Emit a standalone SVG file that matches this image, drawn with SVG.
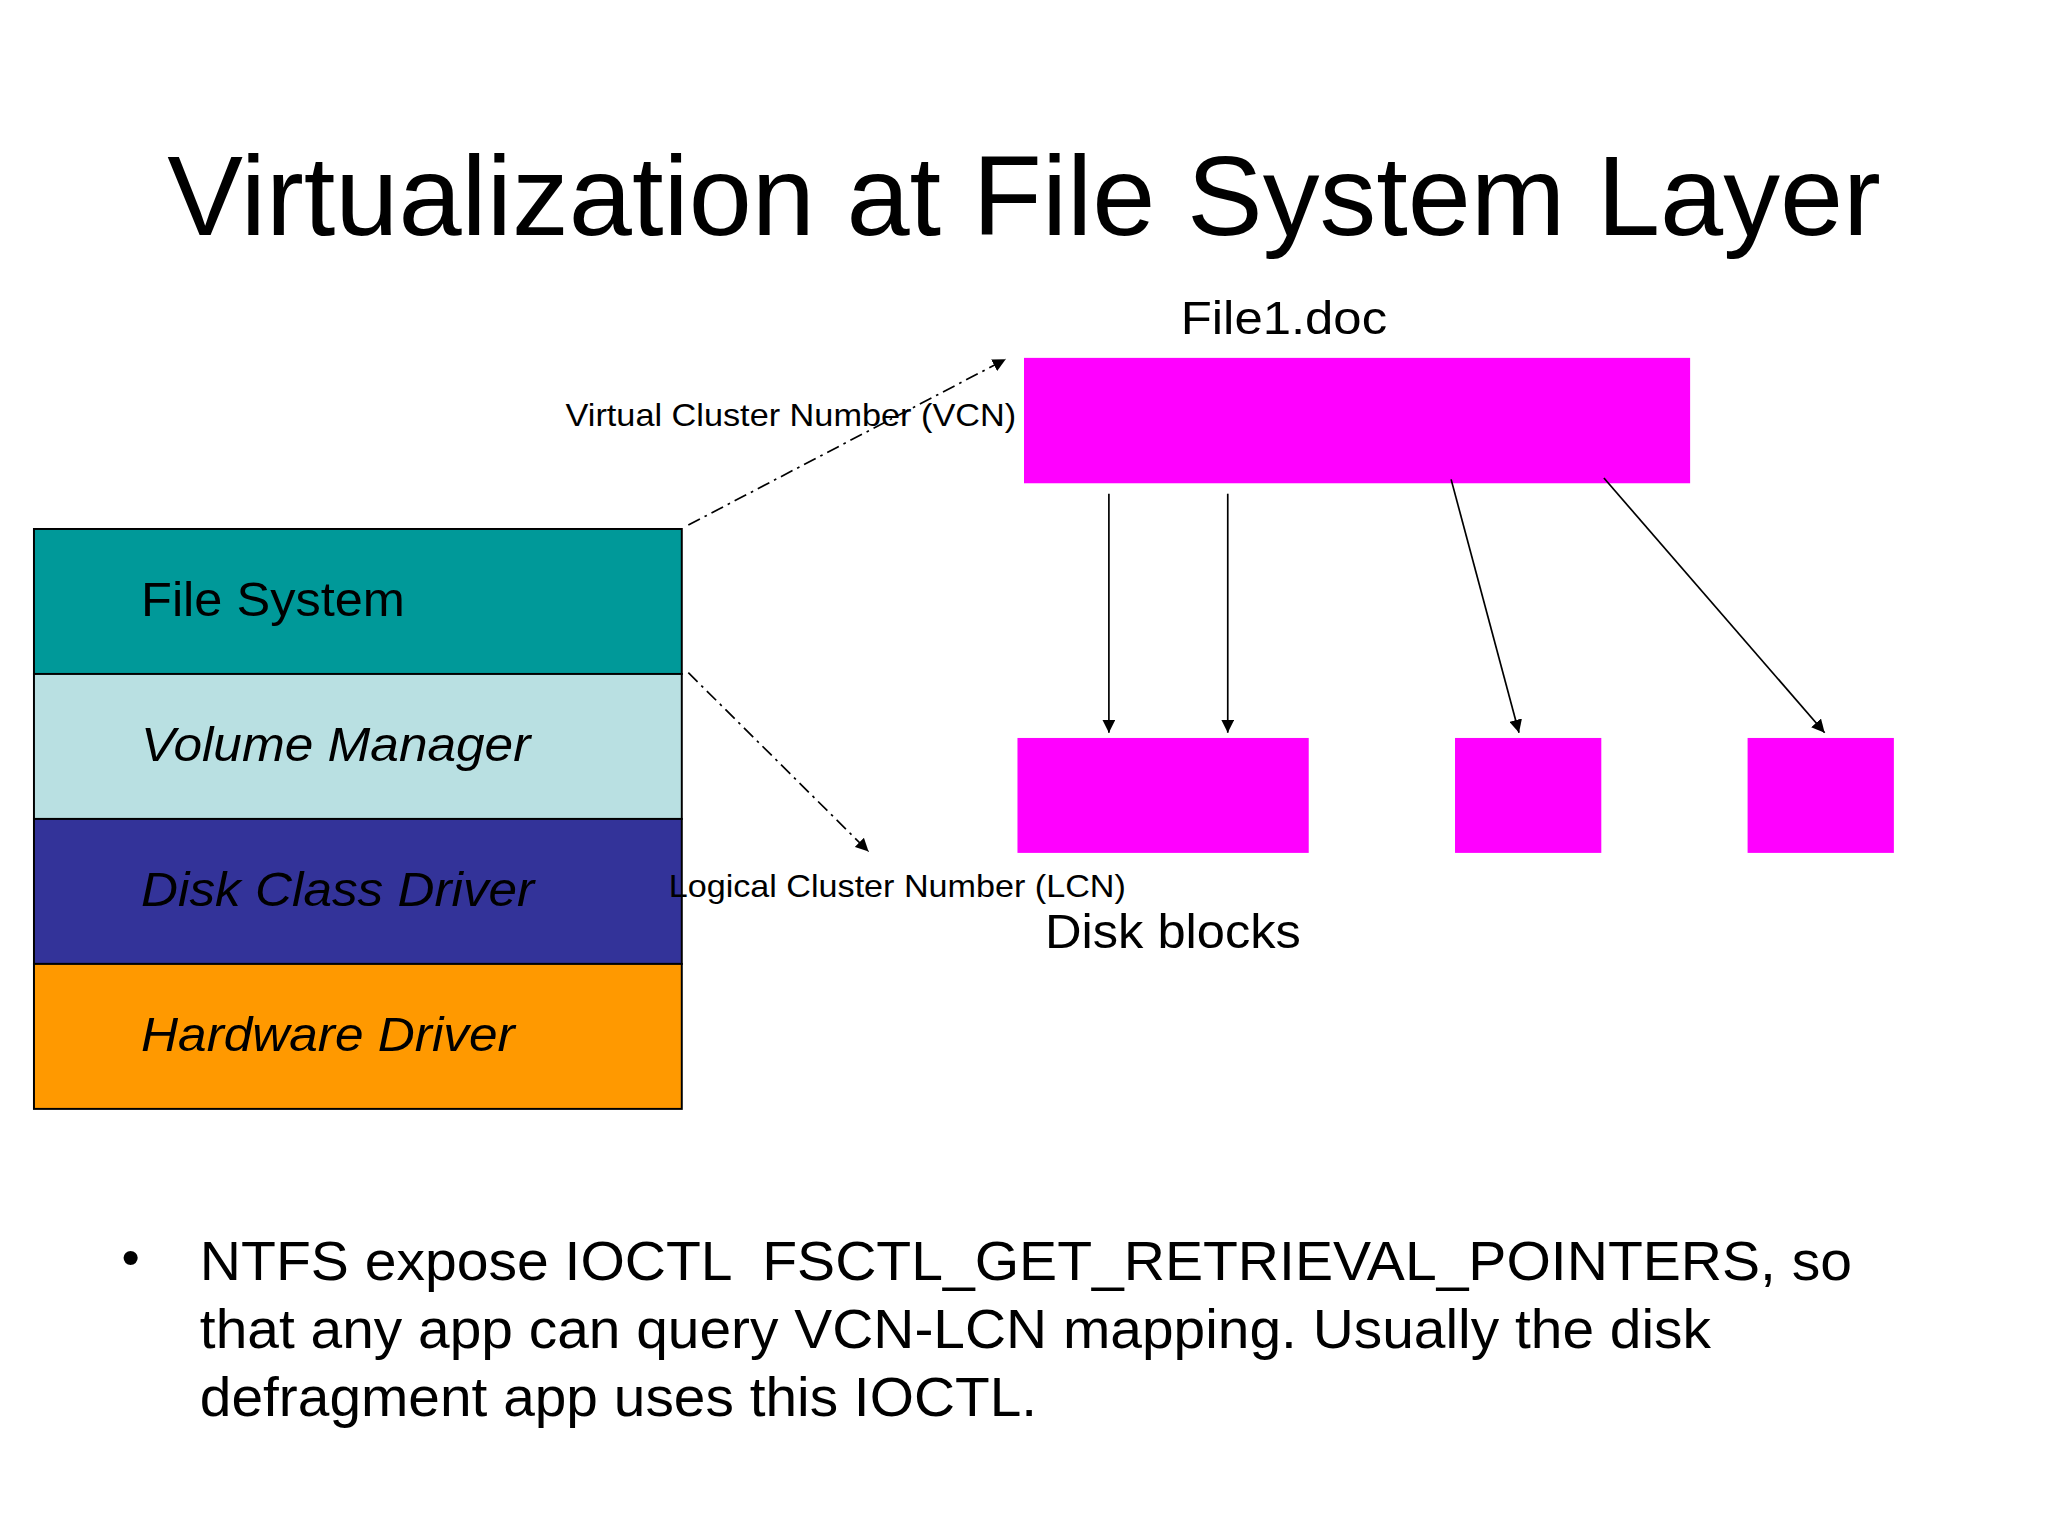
<svg xmlns="http://www.w3.org/2000/svg" width="2048" height="1536" viewBox="0 0 2048 1536">
<style>
text{font-family:"Liberation Sans",Arial,sans-serif;fill:#000}
.lay{stroke:#000;stroke-width:1.5}
.mag{fill:#FF00FF}
.c{stroke:#000;stroke-width:1.3;fill:none}
.dd{stroke-dasharray:10,4,2,4}
</style>
<defs><marker id="a" viewBox="0 0 10 10" refX="10" refY="5" markerWidth="10" markerHeight="10" markerUnits="userSpaceOnUse" orient="auto"><path d="M0,0L10,5L0,10z" fill="#000"/></marker></defs>
<rect width="2048" height="1536" fill="#fff"/>
<g transform="scale(1.30612)">
<text x="128" y="180" font-size="86" textLength="1312" lengthAdjust="spacingAndGlyphs">Virtualization at File System Layer</text>
<g id="file1"><rect class="mag" x="784" y="274" width="510" height="96"/><text x="904" y="256" font-size="36" textLength="158" lengthAdjust="spacingAndGlyphs">File1.doc</text></g>
<g id="fs"><rect class="lay" x="26" y="405" width="496" height="111" fill="#009999"/><text x="108" y="472" font-size="37" textLength="202" lengthAdjust="spacingAndGlyphs">File System</text></g>
<g id="vm"><rect class="lay" x="26" y="516" width="496" height="111" fill="#B9E0E2"/><text x="108" y="583" font-size="37" font-style="italic" textLength="298" lengthAdjust="spacingAndGlyphs">Volume Manager</text></g>
<g id="dcd"><rect class="lay" x="26" y="627" width="496" height="111" fill="#333399"/><text x="108" y="694" font-size="37" font-style="italic" textLength="301" lengthAdjust="spacingAndGlyphs">Disk Class Driver</text></g>
<g id="hd"><rect class="lay" x="26" y="738" width="496" height="111" fill="#FF9900"/><text x="108" y="805" font-size="37" font-style="italic" textLength="286" lengthAdjust="spacingAndGlyphs">Hardware Driver</text></g>
<g id="b1"><rect class="mag" x="779" y="565" width="223" height="88"/></g>
<g id="b2"><rect class="mag" x="1114" y="565" width="112" height="88"/></g>
<g id="b3"><rect class="mag" x="1338" y="565" width="112" height="88"/></g>
<g id="labels">
<text x="433" y="326" font-size="24" textLength="345" lengthAdjust="spacingAndGlyphs">Virtual Cluster Number (VCN)</text>
<text x="512" y="687" font-size="24" textLength="350" lengthAdjust="spacingAndGlyphs">Logical Cluster Number (LCN)</text>
<text x="800" y="726" font-size="37" textLength="196" lengthAdjust="spacingAndGlyphs">Disk blocks</text>
</g>
<g id="connectors">
<line class="c dd" x1="527" y1="402" x2="770" y2="275" marker-end="url(#a)"/>
<line class="c dd" x1="527" y1="515" x2="665" y2="652" marker-end="url(#a)"/>
<line class="c" x1="849" y1="378" x2="849" y2="561" marker-end="url(#a)"/>
<line class="c" x1="940" y1="378" x2="940" y2="561" marker-end="url(#a)"/>
<line class="c" x1="1111" y1="367" x2="1163" y2="561" marker-end="url(#a)"/>
<line class="c" x1="1228" y1="366" x2="1397" y2="561" marker-end="url(#a)"/>
</g>
<g id="bullet" font-size="43">
<text x="93" y="976" font-size="40">•</text>
<text x="153" y="980" xml:space="preserve" textLength="1265" lengthAdjust="spacingAndGlyphs">NTFS expose IOCTL  FSCTL_GET_RETRIEVAL_POINTERS, so</text>
<text x="153" y="1032" textLength="1157" lengthAdjust="spacingAndGlyphs">that any app can query VCN-LCN mapping. Usually the disk</text>
<text x="153" y="1084" textLength="641" lengthAdjust="spacingAndGlyphs">defragment app uses this IOCTL.</text>
</g>
</g>
</svg>
